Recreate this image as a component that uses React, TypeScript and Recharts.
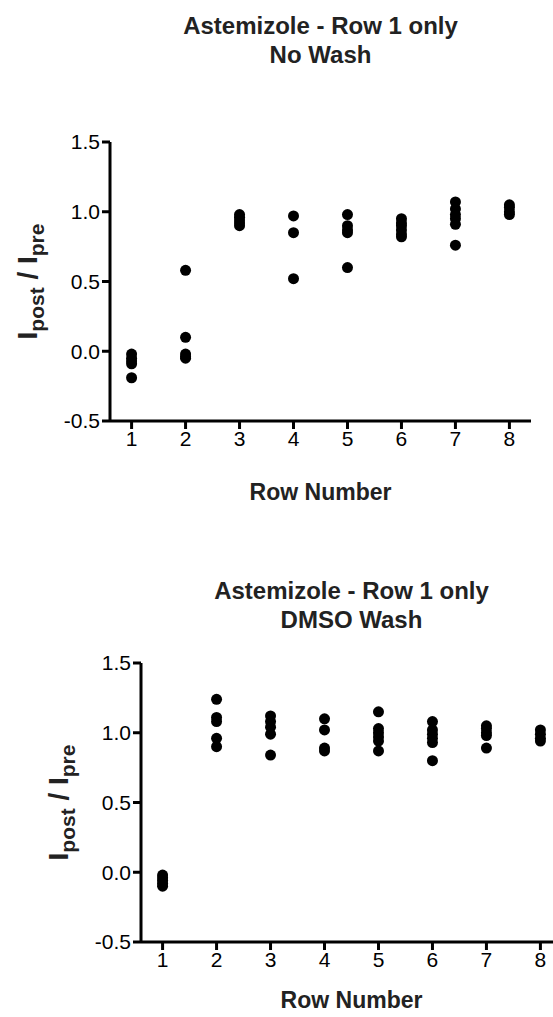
import React from "react";
import { ScatterChart, Scatter, XAxis, YAxis } from "recharts";

const rowNumbers = [1, 2, 3, 4, 5, 6, 7, 8];
const yTicks = [-0.5, 0, 0.5, 1.0, 1.5];

// one list of I_post / I_pre readings per row
const noWash = [
  [-0.02, -0.05, -0.07, -0.09, -0.19],
  [0.58, 0.1, -0.02, -0.04, -0.05],
  [0.98, 0.96, 0.94, 0.92, 0.9],
  [0.97, 0.85, 0.52],
  [0.98, 0.9, 0.87, 0.85, 0.6],
  [0.95, 0.92, 0.9, 0.87, 0.84, 0.82],
  [1.07, 1.02, 0.98, 0.95, 0.91, 0.76],
  [1.05, 1.03, 1.0, 0.98],
];

const dmsoWash = [
  [-0.02, -0.04, -0.06, -0.08, -0.1],
  [1.24, 1.11, 1.08, 0.96, 0.9],
  [1.12, 1.08, 1.04, 0.99, 0.84],
  [1.1, 1.02, 0.89, 0.87],
  [1.15, 1.03, 1.0, 0.97, 0.94, 0.87],
  [1.08, 1.02, 0.99, 0.96, 0.93, 0.8],
  [1.05, 1.03, 1.0, 0.98, 0.89],
  [1.02, 0.99, 0.96, 0.94],
];

const FONT = "'Liberation Sans', Arial, Helvetica, sans-serif";
const axisStyle = { stroke: "#000", strokeWidth: 3 };

const Dot = (props: any) => <circle cx={props.cx} cy={props.cy} r={5.5} fill="#000" />;

const YLabel = (props: any) => {
  const { x, y, height } = props.viewBox;
  const cx = x + 37;
  const cy = y + height / 2;
  return (
    <text
      transform={`translate(${cx},${cy}) rotate(-90)`}
      textAnchor="middle"
      fontFamily={FONT}
      fontWeight="bold"
      fontSize={28}
      fill="#222"
    >
      <tspan>I</tspan>
      <tspan fontSize={21} dy={7}>post</tspan>
      <tspan dy={-7}> / I</tspan>
      <tspan fontSize={21} dy={7}>pre</tspan>
    </text>
  );
};

const makeXLabel = (offset: number) => (props: any) => {
  const { x, y, width } = props.viewBox;
  return (
    <text
      x={x + width / 2}
      y={y + offset}
      textAnchor="middle"
      fontFamily={FONT}
      fontWeight="bold"
      fontSize={23}
      fill="#222"
    >
      Row Number
    </text>
  );
};

function Panel({ title, subtitle, values, left, top, titleTop, labelOffset }: any) {
  const points = values.flatMap((vals: number[], i: number) =>
    vals.map((v) => ({ row: rowNumbers[i], value: v }))
  );
  const XLabel = makeXLabel(labelOffset);
  return (
    <>
      <div
        style={{
          position: "absolute",
          left: left + 110,
          width: 421,
          top: titleTop,
          textAlign: "center",
          fontFamily: FONT,
          fontWeight: "bold",
          fontSize: 24,
          lineHeight: "29px",
          color: "#222",
        }}
      >
        <div>{title}</div>
        <div>{subtitle}</div>
      </div>
      <div style={{ position: "absolute", left, top }}>
        <ScatterChart
          width={553}
          height={511}
          margin={{ top: 142, right: 22, bottom: 0, left: 0 }}
        >
          <XAxis
            type="number"
            dataKey="row"
            domain={[0.6, 8.4]}
            ticks={rowNumbers}
            allowDecimals={false}
            height={90}
            axisLine={axisStyle}
            tickLine={axisStyle}
            tickSize={8}
            tick={{ fontSize: 21, fill: "#000", fontFamily: FONT }}
            label={{ content: (p: any) => <XLabel {...p} /> }}
          />
          <YAxis
            type="number"
            dataKey="value"
            domain={[-0.5, 1.5]}
            ticks={yTicks}
            width={110}
            axisLine={axisStyle}
            tickLine={axisStyle}
            tickSize={8}
            tickFormatter={(v: number) => v.toFixed(1)}
            tick={{ fontSize: 21, fill: "#000", fontFamily: FONT }}
            label={{ content: (p: any) => <YLabel {...p} /> }}
          />
          <Scatter data={points} fill="#000" shape={Dot} isAnimationActive={false} />
        </ScatterChart>
      </div>
    </>
  );
}

export default function App() {
  return (
    <div
      style={{
        position: "absolute",
        left: 0,
        top: 0,
        width: 553,
        height: 1017,
        overflow: "hidden",
        background: "#fff",
      }}
    >
      <Panel
        title="Astemizole - Row 1 only"
        subtitle="No Wash"
        values={noWash}
        left={0}
        top={0}
        titleTop={11}
        labelOffset={79}
      />
      <Panel
        title="Astemizole - Row 1 only"
        subtitle="DMSO Wash"
        values={dmsoWash}
        left={31}
        top={521}
        titleTop={576}
        labelOffset={66}
      />
    </div>
  );
}
